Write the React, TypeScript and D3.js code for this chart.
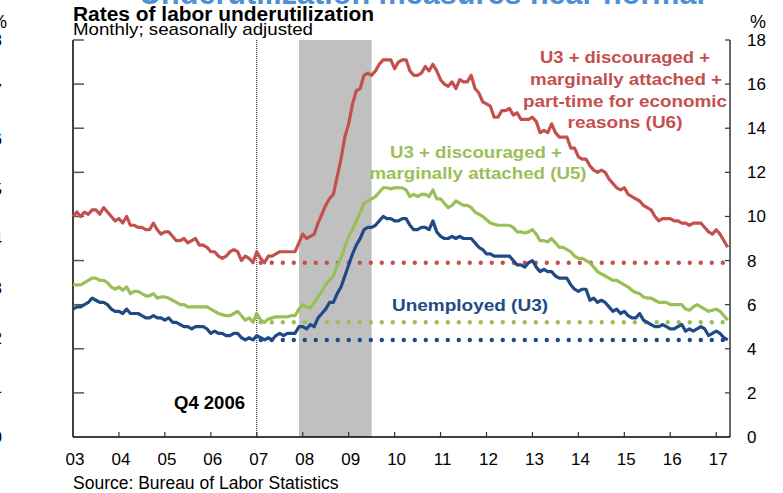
import * as d3 from "d3";

// Monthly, seasonally adjusted, Jan 2003 - Apr 2017 (percent)
const START_YEAR = 2003;

const U6 = [
  10.0, 10.2, 10.0, 10.2, 10.1, 10.3, 10.3, 10.1, 10.4, 10.2, 10.0, 9.8,
  9.9, 9.7, 10.0, 9.6, 9.6, 9.5, 9.5, 9.4, 9.4, 9.7, 9.4, 9.2,
  9.3, 9.3, 9.1, 8.9, 8.9, 9.0, 8.8, 8.9, 9.0, 8.7, 8.7, 8.6,
  8.4, 8.4, 8.2, 8.1, 8.2, 8.4, 8.5, 8.4, 8.0, 8.2, 8.1, 7.9,
  8.4, 8.1, 7.9, 8.2, 8.2, 8.3, 8.4, 8.4, 8.4, 8.4, 8.4, 8.8,
  9.2, 9.0, 9.1, 9.2, 9.7, 10.1, 10.5, 10.8, 11.0, 11.8, 12.6, 13.6,
  14.2, 15.1, 15.7, 15.8, 16.4, 16.5, 16.4, 16.6, 16.9, 17.1, 17.1, 17.1,
  16.7, 17.0, 17.1, 17.1, 16.6, 16.4, 16.4, 16.5, 16.8, 16.6, 16.9, 16.6,
  16.2, 16.0, 15.9, 16.1, 15.8, 16.2, 16.1, 16.1, 16.4, 15.8, 15.6, 15.2,
  15.1, 15.0, 14.5, 14.5, 14.8, 14.8, 14.9, 14.6, 14.7, 14.4, 14.4, 14.4,
  14.5, 14.3, 13.8, 13.9, 13.8, 14.2, 13.8, 13.6, 13.6, 13.6, 13.1, 13.1,
  12.7, 12.6, 12.6, 12.3, 12.1, 12.0, 12.1, 12.0, 11.7, 11.5, 11.3, 11.2,
  11.3, 11.0, 10.9, 10.8, 10.7, 10.5, 10.4, 10.3, 10.0, 9.8, 9.9, 9.9,
  9.9, 9.8, 9.8, 9.7, 9.7, 9.6, 9.7, 9.7, 9.7, 9.5, 9.3, 9.2,
  9.4, 9.2, 8.9, 8.6,
];

const U5 = [
  6.9, 6.9, 6.9, 7.0, 7.1, 7.2, 7.2, 7.1, 7.1, 7.0, 6.8, 6.7,
  6.8, 6.65, 6.8, 6.5, 6.6, 6.6, 6.5, 6.4, 6.4, 6.5, 6.3, 6.35,
  6.35, 6.3, 6.2, 6.1, 6.0, 6.0, 5.9, 5.9, 5.9, 5.9, 5.9, 5.9,
  5.8, 5.7, 5.6, 5.55, 5.5, 5.5, 5.6, 5.7, 5.5, 5.3, 5.4, 5.2,
  5.6, 5.3, 5.2, 5.35, 5.4, 5.45, 5.45, 5.45, 5.45, 5.5, 5.5, 5.8,
  6.0, 5.9, 5.85, 6.1, 6.35, 6.6, 6.9, 7.1, 7.3, 7.8, 8.1, 8.6,
  9.1, 9.4, 9.8, 10.2, 10.6, 10.7, 10.8, 10.9, 11.1, 11.3, 11.3, 11.25,
  11.3, 11.3, 11.3, 11.2, 10.9, 11.0, 10.9, 11.0, 11.0, 10.9, 11.2, 10.8,
  10.8, 10.6, 10.4, 10.5, 10.7, 10.6, 10.5, 10.5, 10.4, 10.2, 10.1, 10.0,
  9.85, 9.7, 9.65, 9.6, 9.6, 9.6, 9.6, 9.5, 9.3, 9.3, 9.25, 9.3,
  9.4, 9.2, 8.9, 8.9, 8.85, 9.0, 8.8, 8.6, 8.6, 8.5, 8.4, 8.2,
  8.1, 8.1, 8.0, 7.9, 7.7, 7.5, 7.4, 7.3, 7.2, 7.1, 7.1, 7.0,
  6.9, 6.8, 6.65, 6.55, 6.5, 6.35, 6.3, 6.3, 6.2, 6.1, 6.1, 6.1,
  6.0, 6.0, 6.0, 6.0, 5.8, 5.75, 5.9, 6.0, 5.9, 5.8, 5.7, 5.75,
  5.8, 5.7, 5.5, 5.3,
];

const U3 = [
  5.8, 5.9, 5.9, 6.0, 6.1, 6.3, 6.2, 6.1, 6.1, 6.0, 5.8, 5.7,
  5.7, 5.6, 5.8, 5.6, 5.6, 5.6, 5.5, 5.4, 5.4, 5.5, 5.4, 5.4,
  5.3, 5.4, 5.2, 5.2, 5.1, 5.0, 5.0, 4.9, 5.0, 5.0, 5.0, 4.9,
  4.7, 4.8, 4.7, 4.7, 4.6, 4.6, 4.7, 4.7, 4.5, 4.4, 4.5, 4.4,
  4.6, 4.5, 4.4, 4.5, 4.4, 4.6, 4.7, 4.6, 4.7, 4.7, 4.7, 5.0,
  5.0, 4.9, 5.1, 5.0, 5.4, 5.6, 5.8, 6.1, 6.1, 6.5, 6.8, 7.3,
  7.8, 8.3, 8.7, 9.0, 9.4, 9.5, 9.5, 9.6, 9.8, 10.0, 9.9, 9.9,
  9.8, 9.8, 9.9, 9.9, 9.6, 9.4, 9.4, 9.5, 9.5, 9.4, 9.8, 9.3,
  9.1, 9.0, 9.0, 9.1, 9.0, 9.1, 9.0, 9.0, 9.0, 8.8, 8.6, 8.5,
  8.3, 8.3, 8.2, 8.2, 8.2, 8.2, 8.2, 8.0, 7.8, 7.8, 7.7, 7.9,
  8.0, 7.7, 7.5, 7.6, 7.5, 7.5, 7.3, 7.2, 7.2, 7.2, 6.9, 6.7,
  6.6, 6.7, 6.7, 6.2, 6.3, 6.1, 6.2, 6.1, 5.9, 5.7, 5.8, 5.6,
  5.7, 5.5, 5.4, 5.4, 5.6, 5.3, 5.2, 5.1, 5.0, 5.0, 5.1, 5.0,
  4.9, 4.9, 5.0, 5.1, 4.8, 4.9, 4.8, 4.9, 5.0, 4.9, 4.6, 4.7,
  4.8, 4.7, 4.5, 4.4,
];

// Q4 2006 levels, drawn as dotted reference lines
const BENCH_U6 = 7.9;
const BENCH_U5 = 5.2;
const BENCH_U3 = 4.4;
const BENCH_YEAR = 2007;

const RECESSION = [2007.92, 2009.5];
const YEARS = [2003, 2004, 2005, 2006, 2007, 2008, 2009, 2010, 2011, 2012, 2013, 2014, 2015, 2016, 2017];
const Y_TICKS = [0, 2, 4, 6, 8, 10, 12, 14, 16, 18];
const CUT_TICKS = [0, 1, 2, 3, 4, 5, 6, 7, 8];

const W = 783;
const H = 493;
const M = { left: 73, right: 730, top: 40, bottom: 437 };
const FONT = "'Liberation Sans', Arial, Helvetica, sans-serif";

const RED = "#c4504e";
const GREEN = "#9bbf57";
const BLUE = "#1f4a86";

export default function App() {
  const x = d3.scaleLinear().domain([2003, 2017.3]).range([M.left, M.right]);
  const y = d3.scaleLinear().domain([0, 18]).range([M.bottom, M.top]);
  const yCut = d3.scaleLinear().domain([0, 8]).range([M.bottom, M.top]);
  const date = (i: number) => START_YEAR + i / 12;

  const line = d3
    .line<number>()
    .x((_, i) => x(date(i)))
    .y((d) => y(d));

  const bench = (v: number, color: string) => (
    <line
      x1={x(BENCH_YEAR) + 4}
      x2={M.right}
      y1={y(v)}
      y2={y(v)}
      stroke={color}
      strokeWidth={4.4}
      strokeLinecap="round"
      strokeDasharray="0 11"
    />
  );

  const txt = { fontFamily: FONT, fill: "#000" };

  return (
    <svg
      width={W}
      height={H}
      viewBox={`0 0 ${W} ${H}`}
      style={{ position: "absolute", left: 0, top: 0, background: "#fff" }}
    >
      <rect width={W} height={H} fill="#fff" />

      {/* header cut off from the slide above */}
      <text x={422} y={4} textAnchor="middle" fontFamily={FONT} fontWeight="bold" fontSize={31} fill="#4f8fd3" textLength={566} lengthAdjust="spacingAndGlyphs">
        Underutilization measures near normal
      </text>
      {/* axis labels of the neighbouring chart, clipped at the left edge */}
      <text x={7} y={28} textAnchor="end" fontSize={18} {...txt}>%</text>
      {CUT_TICKS.map((t) => (
        <text key={"c" + t} x={2} y={yCut(t) + 6} textAnchor="end" fontSize={17} {...txt}>{t}</text>
      ))}

      <text x={73} y={21} fontWeight="bold" fontSize={20} textLength={301} lengthAdjust="spacingAndGlyphs" {...txt}>
        Rates of labor underutilization
      </text>
      <text x={73} y={35} fontSize={17} textLength={240} lengthAdjust="spacingAndGlyphs" {...txt}>
        Monthly; seasonally adjusted
      </text>

      {/* recession shading */}
      <rect
        x={x(RECESSION[0])}
        y={M.top}
        width={x(RECESSION[1]) - x(RECESSION[0])}
        height={M.bottom - M.top}
        fill="#c0c0c0"
      />

      {/* Q4 2006 marker */}
      <line x1={x(BENCH_YEAR)} x2={x(BENCH_YEAR)} y1={M.top} y2={M.bottom} stroke="#000" strokeWidth={1} strokeDasharray="1 1" />
      <text x={245} y={409} textAnchor="end" fontWeight="bold" fontSize={18} textLength={71} lengthAdjust="spacingAndGlyphs" {...txt}>Q4 2006</text>

      {/* axes */}
      <line x1={M.left} x2={M.left} y1={M.top} y2={M.bottom} stroke="#000" strokeWidth={1.5} />
      <line x1={M.right} x2={M.right} y1={M.top} y2={M.bottom} stroke="#333" strokeWidth={1.5} />
      <line x1={M.left} x2={M.right} y1={M.bottom} y2={M.bottom} stroke="#000" strokeWidth={1.5} />
      {Y_TICKS.filter((t) => t > 0).map((t) => (
        <g key={"yt" + t}>
          <line x1={M.left} x2={M.left + 11} y1={y(t)} y2={y(t)} stroke="#555" strokeWidth={1.5} />
          <line x1={M.right - 5} x2={M.right} y1={y(t)} y2={y(t)} stroke="#333" strokeWidth={1.2} />
        </g>
      ))}
      {Y_TICKS.map((t) => (
        <text key={"yl" + t} x={747} y={y(t) + 6} fontSize={17} {...txt}>{t}</text>
      ))}
      <text x={758} y={28} textAnchor="middle" fontSize={18} {...txt}>%</text>

      {YEARS.map((yr) => (
        <g key={"x" + yr}>
          {yr > 2003 && (
            <line x1={x(yr)} x2={x(yr)} y1={M.bottom} y2={M.bottom - 5} stroke="#333" strokeWidth={1.2} />
          )}
          <text x={x(yr) + 2} y={465} textAnchor="middle" fontSize={17} {...txt}>
            {String(yr % 100).padStart(2, "0")}
          </text>
        </g>
      ))}

      {/* Q4 2006 reference levels */}
      {bench(BENCH_U6, RED)}
      {bench(BENCH_U5, GREEN)}
      {bench(BENCH_U3, BLUE)}

      {/* series */}
      <path d={line(U6) ?? ""} fill="none" stroke={RED} strokeWidth={3.2} strokeLinejoin="round" />
      <path d={line(U5) ?? ""} fill="none" stroke={GREEN} strokeWidth={3.2} strokeLinejoin="round" />
      <path d={line(U3) ?? ""} fill="none" stroke={BLUE} strokeWidth={3.2} strokeLinejoin="round" />

      {/* labels */}
      <g fontFamily={FONT} fontWeight="bold" fontSize={17} fill={RED} textAnchor="middle">
        <text x={625} y={63} textLength={170} lengthAdjust="spacingAndGlyphs">U3 + discouraged +</text>
        <text x={626} y={85} textLength={192} lengthAdjust="spacingAndGlyphs">marginally attached +</text>
        <text x={625} y={107} textLength={204} lengthAdjust="spacingAndGlyphs">part-time for economic</text>
        <text x={625} y={128} textLength={115} lengthAdjust="spacingAndGlyphs">reasons (U6)</text>
      </g>
      <g fontFamily={FONT} fontWeight="bold" fontSize={17} fill={GREEN} textAnchor="middle">
        <text x={476} y={158} textLength={172} lengthAdjust="spacingAndGlyphs">U3 + discouraged +</text>
        <text x={478} y={179} textLength={217} lengthAdjust="spacingAndGlyphs">marginally attached (U5)</text>
      </g>
      <text x={470} y={311} textAnchor="middle" fontFamily={FONT} fontWeight="bold" fontSize={17} fill={BLUE} textLength={156} lengthAdjust="spacingAndGlyphs">
        Unemployed (U3)
      </text>

      <text x={73} y={489} fontSize={17.5} {...txt}>Source: Bureau of Labor Statistics</text>
    </svg>
  );
}
